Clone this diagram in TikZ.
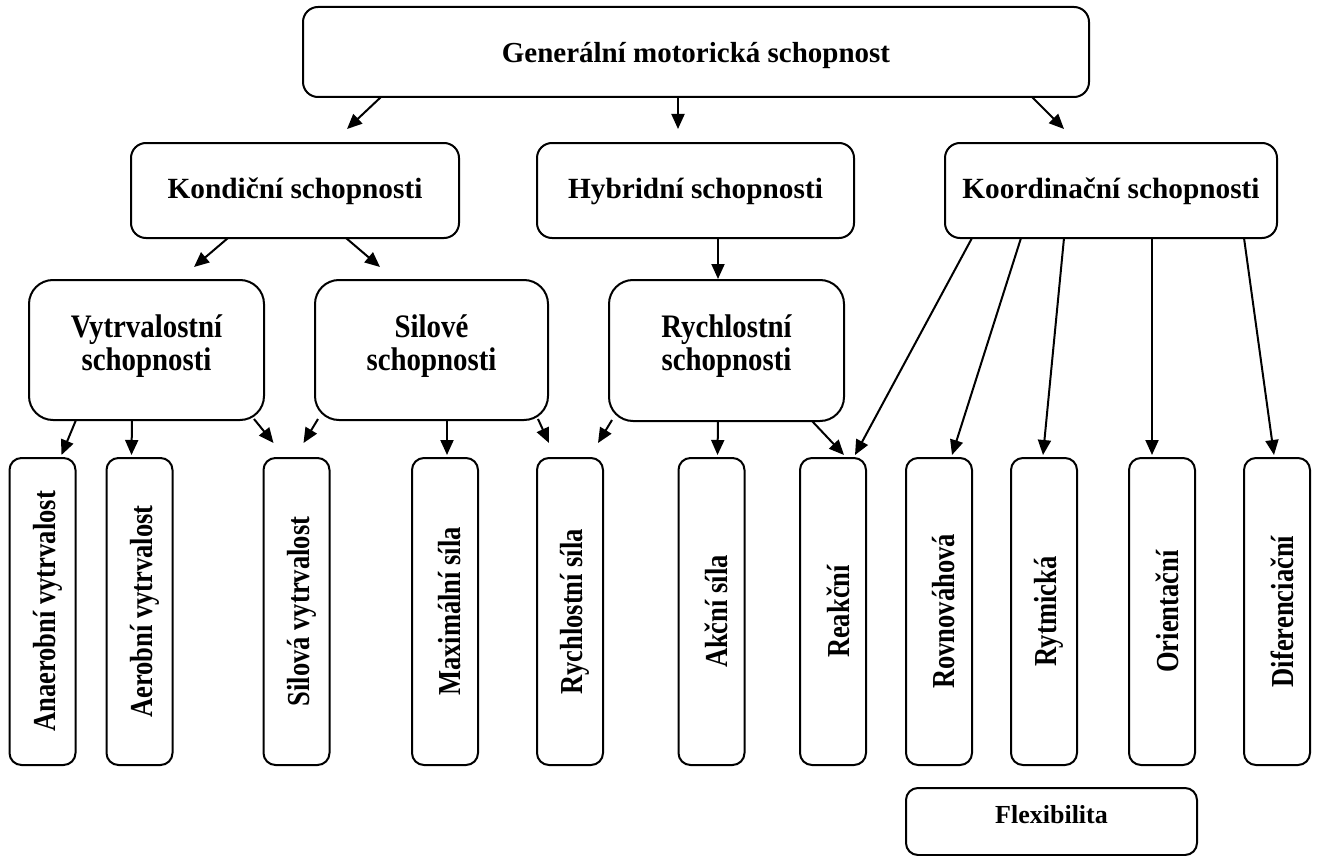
\documentclass[tikz,border=0pt]{standalone}
\usepackage{fontspec}
\usepackage{graphicx}
\setmainfont{Liberation Serif}
\newfontfamily\narrowA[FakeStretch=0.88]{Liberation Serif}
\newfontfamily\narrowB[FakeStretch=0.83]{Liberation Serif}
\usetikzlibrary{arrows.meta}
\begin{document}
\begin{tikzpicture}[x=1pt,y=-1pt,
  box/.style={draw, line width=2pt, rounded corners=15pt, inner sep=0pt, outer sep=0pt,
    align=center, font=\fontsize{29.3}{34}\selectfont\bfseries},
  bigbox/.style={box, rounded corners=24pt, minimum width=235pt, minimum height=140pt,
    font=\fontsize{32.8}{33}\selectfont\narrowA\bfseries, text depth=15pt},
  leaf/.style={draw, line width=2pt, rounded corners=12pt, inner sep=0pt, outer sep=0pt,
    minimum width=66pt, minimum height=307pt},
  ltxt/.style={inner sep=0pt, outer sep=0pt, xshift=5pt,
    font=\fontsize{32}{36}\selectfont\narrowB\bfseries},
  arr/.style={line width=2pt, -{Triangle[length=15pt,width=13pt]}}]
\useasboundingbox (0,0) rectangle (1319,856);
% top
\node[box, minimum width=786pt, minimum height=90pt, text height=28pt, text depth=6.6pt,
  font=\fontsize{29}{34}\selectfont\bfseries] (top) at (696,52) {Generální motorická schopnost};
% row 2
\node[box, minimum width=328pt, minimum height=95pt, text height=21pt, text depth=6pt] (kond) at (295,190.5) {Kondiční schopnosti};
\node[box, minimum width=317pt, minimum height=95pt, text height=21pt, text depth=6pt] (hybr) at (695.5,190.5) {Hybridní schopnosti};
\node[box, minimum width=332pt, minimum height=95pt, text height=21pt, text depth=6pt] (koord) at (1111,190.5) {Koordinační schopnosti};
% row 3
\node[bigbox] (vytr) at (146.5,350) {Vytrvalostní\\schopnosti};
\node[bigbox, minimum width=233pt] (silove) at (431.5,350) {Silové\\schopnosti};
\node[bigbox, minimum height=141pt] (rychl) at (726.5,350.5) {Rychlostní\\schopnosti};
% leaves
\node[leaf, label={[ltxt]center:\rotatebox{90}{Anaerobní vytrvalost}}] (anaer) at (42.5,611.5) {};
\node[leaf, label={[ltxt]center:\rotatebox{90}{Aerobní vytrvalost}}] (aer) at (139.5,611.5) {};
\node[leaf, label={[ltxt]center:\rotatebox{90}{Silová vytrvalost}}] (silvytr) at (296.5,611.5) {};
\node[leaf, label={[ltxt]center:\rotatebox{90}{Maximální síla}}] (max) at (445,611.5) {};
\node[leaf, label={[ltxt]center:\rotatebox{90}{Rychlostní síla}}] (rsila) at (570,611.5) {};
\node[leaf, label={[ltxt]center:\rotatebox{90}{Akční síla}}] (akcni) at (711.5,611.5) {};
\node[leaf, label={[ltxt]center:\rotatebox{90}{Reakční}}] (reakcni) at (833,611.5) {};
\node[leaf, label={[ltxt]center:\rotatebox{90}{Rovnováhová}}] (rovn) at (939,611.5) {};
\node[leaf, label={[ltxt]center:\rotatebox{90}{Rytmická}}] (rytm) at (1044,611.5) {};
\node[leaf, label={[ltxt]center:\rotatebox{90}{Orientační}}] (orient) at (1162,611.5) {};
\node[leaf, label={[ltxt]center:\rotatebox{90}{Diferenciační}}] (difer) at (1277,611.5) {};
% flexibilita
\node[leaf, minimum width=291pt, minimum height=67pt, text height=18pt, text depth=15pt,
  font=\fontsize{26}{30}\selectfont\bfseries] (flex) at (1051.5,821.5) {Flexibilita};
% arrows
\draw[arr] ([xshift=78pt]top.south west) -- ([xshift=216pt,yshift=14pt]kond.north west);
\draw[arr] ([xshift=375pt]top.south west) -- ([xshift=141pt,yshift=14pt]hybr.north west);
\draw[arr] ([xshift=729pt]top.south west) -- ([xshift=119pt,yshift=14pt]koord.north west);
\draw[arr] ([xshift=97pt]kond.south west) -- ([xshift=165pt,yshift=13pt]vytr.north west);
\draw[arr] ([xshift=215pt]kond.south west) -- ([xshift=65pt,yshift=13pt]silove.north west);
\draw[arr] ([xshift=181pt]hybr.south west) -- ([xshift=109pt,yshift=1pt]rychl.north west);
\draw[arr] ([xshift=47pt]vytr.south west) -- ([xshift=52pt,yshift=3pt]anaer.north west);
\draw[arr] ([xshift=103pt]vytr.south west) -- ([xshift=25pt,yshift=3pt]aer.north west);
\draw[arr] ([xshift=225pt,yshift=1pt]vytr.south west) -- ([xshift=10pt,yshift=15pt]silvytr.north west);
\draw[arr] ([xshift=3pt,yshift=1pt]silove.south west) -- ([xshift=40pt,yshift=15pt]silvytr.north west);
\draw[arr] ([xshift=132pt]silove.south west) -- ([xshift=35pt,yshift=3pt]max.north west);
\draw[arr] ([xshift=223pt,yshift=1pt]silove.south west) -- ([xshift=12pt,yshift=15pt]rsila.north west);
\draw[arr] ([xshift=3pt,yshift=1pt]rychl.south west) -- ([xshift=61pt,yshift=15pt]rsila.north west);
\draw[arr] ([xshift=109pt]rychl.south west) -- ([xshift=39pt,yshift=3pt]akcni.north west);
\draw[arr] ([xshift=203pt]rychl.south west) -- ([xshift=44pt,yshift=3pt]reakcni.north west);
\draw[arr] ([xshift=27pt]koord.south west) -- ([xshift=55pt,yshift=3pt]reakcni.north west);
\draw[arr] ([xshift=76pt]koord.south west) -- ([xshift=46pt,yshift=3pt]rovn.north west);
\draw[arr] ([xshift=119pt]koord.south west) -- ([xshift=32pt,yshift=3pt]rytm.north west);
\draw[arr] ([xshift=207pt]koord.south west) -- ([xshift=23pt,yshift=3pt]orient.north west);
\draw[arr] ([xshift=299pt]koord.south west) -- ([xshift=30pt,yshift=3pt]difer.north west);
\end{tikzpicture}
\end{document}
